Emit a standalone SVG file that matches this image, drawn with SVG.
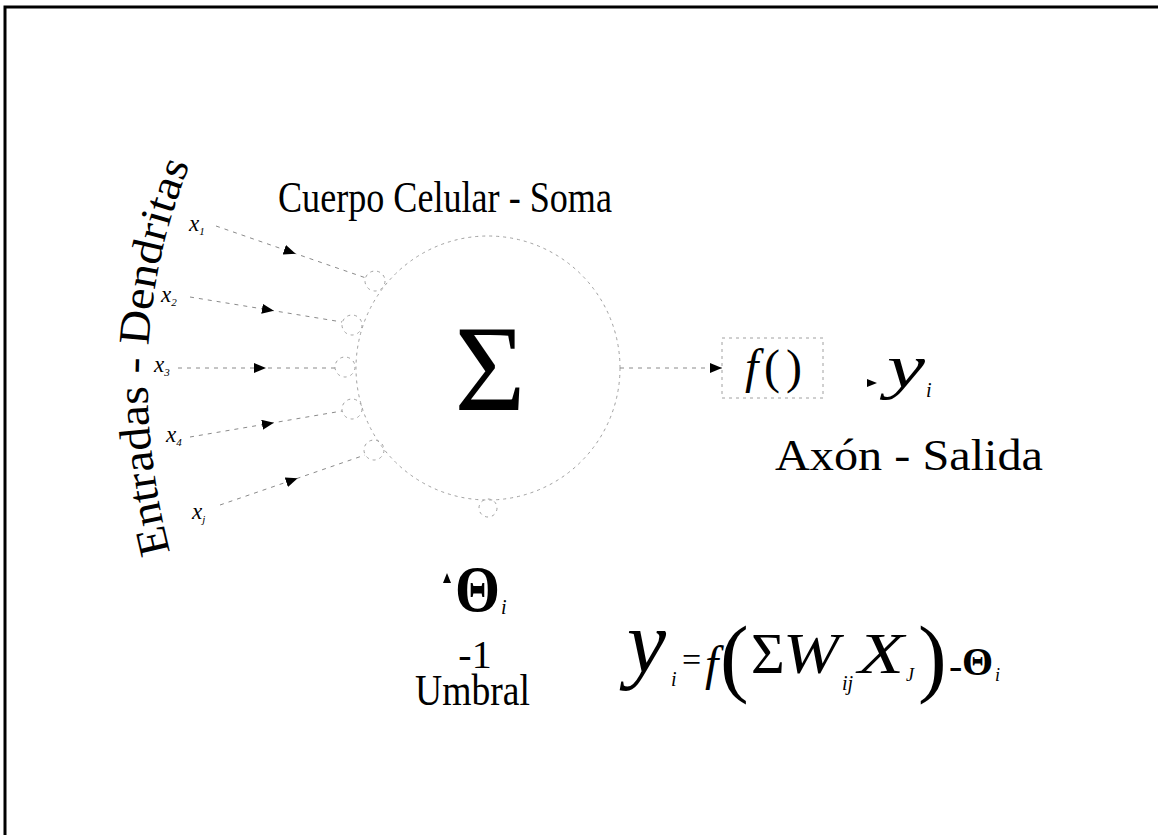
<svg xmlns="http://www.w3.org/2000/svg" width="1158" height="835" viewBox="0 0 1158 835">
<style>
.t{font-family:"Liberation Serif","Times New Roman","DejaVu Serif",serif;fill:#000}
.it{font-style:italic}
.faint{fill:none;stroke:#a0a0a0;stroke-width:1;stroke-dasharray:3 4}
.conn{fill:none;stroke:#8a8a8a;stroke-width:1;stroke-dasharray:4 5}
</style>
<defs>
<marker id="arr" viewBox="0 0 12 10" refX="6" refY="5" markerWidth="12" markerHeight="10" markerUnits="userSpaceOnUse" orient="auto"><path d="M0,0 L12,5 L0,10 Z" fill="#000"/></marker>
<marker id="arrEnd" viewBox="0 0 12 10" refX="12" refY="5" markerWidth="12" markerHeight="10" markerUnits="userSpaceOnUse" orient="auto"><path d="M0,0 L12,5 L0,10 Z" fill="#000"/></marker>
<marker id="arrSmall" viewBox="0 0 10 8" refX="10" refY="4" markerWidth="10" markerHeight="9" markerUnits="userSpaceOnUse" orient="auto"><path d="M0,0 L10,4 L0,8 Z" fill="#000"/></marker>
<path id="dendPath" d="M 170 552 C 142 440, 130 300, 196 150"/>
</defs>
<rect width="1158" height="835" fill="#fff"/>
<path d="M5 835 L5 7 L1158 7" fill="none" stroke="#000" stroke-width="3"/>

<g id="soma">
<circle cx="488" cy="368" r="132" class="faint"/>
<text class="t" x="490" y="410" font-size="122" text-anchor="middle">Σ</text>
</g>
<g id="soma-label"><text class="t" x="278" y="212" font-size="44" textLength="334" lengthAdjust="spacingAndGlyphs">Cuerpo Celular - Soma</text></g>
<g id="dendrites-label"><text class="t" font-size="44"><textPath href="#dendPath" textLength="395" lengthAdjust="spacingAndGlyphs">Entradas - Dendritas</textPath></text></g>

<g id="synapses">
<circle cx="375" cy="281" r="10" class="faint"/>
<circle cx="352" cy="325" r="10" class="faint"/>
<circle cx="345" cy="367" r="10" class="faint"/>
<circle cx="352" cy="409" r="10" class="faint"/>
<circle cx="374" cy="450" r="10" class="faint"/>
<circle cx="488" cy="508" r="9" class="faint"/>
</g>

<g id="inputs" class="t it" font-size="23">
<text x="189" y="231">x<tspan font-size="11" dy="4">1</tspan></text>
<text x="161" y="302">x<tspan font-size="11" dy="4">2</tspan></text>
<text x="154" y="372">x<tspan font-size="11" dy="4">3</tspan></text>
<text x="166" y="442">x<tspan font-size="11" dy="4">4</tspan></text>
<text x="192" y="519">x<tspan font-size="11" dy="4">j</tspan></text>
</g>

<g id="connectors">
<path class="conn" d="M216 226 L290 251.7 L366 278" marker-mid="url(#arr)"/>
<path class="conn" d="M190 297 L268 309.8 L342 322" marker-mid="url(#arr)"/>
<path class="conn" d="M178 368 L260 368 L335 368" marker-mid="url(#arr)"/>
<path class="conn" d="M190 437 L268 423.7 L342 411" marker-mid="url(#arr)"/>
<path class="conn" d="M220 505 L292 480.2 L365 455" marker-mid="url(#arr)"/>
<path class="conn" d="M620 368 L722 368" marker-end="url(#arrEnd)"/>
<path class="conn" d="M860 383 L877 383" stroke-opacity="0" marker-end="url(#arrSmall)"/>
<path class="conn" d="M447 590 L447 573" stroke-opacity="0" marker-end="url(#arrSmall)"/>
</g>

<g id="activation">
<rect x="722" y="338" width="101" height="60" class="faint"/>
<text class="t" y="383" font-size="48"><tspan class="it" x="745">f</tspan><tspan x="764">(</tspan><tspan x="786">)</tspan></text>
</g>

<g id="output">
<text class="t it" x="887" y="387" font-size="62" textLength="38" lengthAdjust="spacingAndGlyphs">y</text>
<text class="t it" x="926" y="397" font-size="20">i</text>
<text class="t" x="775" y="470" font-size="44" textLength="268" lengthAdjust="spacingAndGlyphs">Axón - Salida</text>
</g>

<g id="threshold">
<text class="t" x="455" y="611" font-size="66" font-weight="bold" textLength="45" lengthAdjust="spacingAndGlyphs">Θ</text>
<text class="t it" x="501" y="614" font-size="20">i</text>
<text class="t" x="475" y="668" font-size="40" text-anchor="middle">-1</text>
<text class="t" x="415" y="705" font-size="44" textLength="115" lengthAdjust="spacingAndGlyphs">Umbral</text>
</g>

<g id="formula" class="t">
<text class="it" x="627" y="672" font-size="88">y</text>
<text class="it" x="671" y="686" font-size="20">i</text>
<text x="682" y="671" font-size="34">=</text>
<text class="it" x="705" y="680" font-size="48">f</text>
<text x="720" y="686" font-size="86">(</text>
<text x="751" y="673" font-size="58">Σ</text>
<text class="it" x="783" y="673" font-size="56" textLength="56" lengthAdjust="spacingAndGlyphs">W</text>
<text class="it" x="842" y="690" font-size="20">ij</text>
<text class="it" x="858" y="673" font-size="56" textLength="46" lengthAdjust="spacingAndGlyphs">X</text>
<text class="it" x="906" y="681" font-size="18">J</text>
<text x="918" y="686" font-size="86">)</text>
<text x="949" y="679" font-size="40">-</text>
<text x="962" y="675" font-size="40" font-weight="bold">Θ</text>
<text class="it" x="995" y="681" font-size="18">i</text>
</g>
</svg>
